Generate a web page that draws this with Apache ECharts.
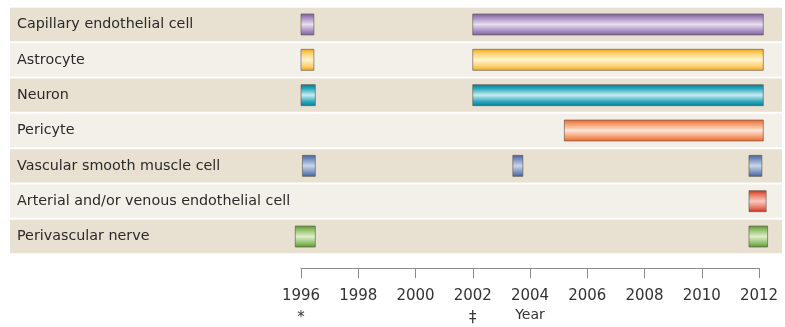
<!DOCTYPE html>
<html lang="en">
<head>
    <meta charset="UTF-8">
    <title>Cell types timeline</title>
    <script type="text/javascript" src="https://cdn.jsdelivr.net/npm/echarts@6/dist/echarts.min.js"></script>
    <style>
        html, body { margin: 0; padding: 0; background: #fff; }
        #chart { width: 785px; height: 327px; }
    </style>
</head>
<body>
<div id="chart"></div>
<script>
    // row labels, top to bottom
    var cellTypes = [
        'Capillary endothelial cell',
        'Astrocyte',
        'Neuron',
        'Pericyte',
        'Vascular smooth muscle cell',
        'Arterial and/or venous endothelial cell',
        'Perivascular nerve'
    ];
    // [row, start year, end year]
    var periods = [
        [0, 1996.0, 1996.45], [0, 2002.0, 2012.15],
        [1, 1996.0, 1996.45], [1, 2002.0, 2012.15],
        [2, 1996.0, 1996.5], [2, 2002.0, 2012.15],
        [3, 2005.2, 2012.15],
        [4, 1996.05, 1996.5], [4, 2003.4, 2003.75], [4, 2011.65, 2012.1],
        [5, 2011.65, 2012.25],
        [6, 1995.8, 1996.5], [6, 2011.65, 2012.3]
    ];
    var tickNotes = {1996: '*', 2002: '‡'};

    // dark edge / mid / highlight per row
    var rowColors = [
        ['#7a5f96', '#a68dc1', '#e8deef'],
        ['#eea31a', '#fdd06a', '#fff4d2'],
        ['#007f97', '#2aa6bb', '#c8ecf2'],
        ['#e2642a', '#f59a6a', '#fde4d4'],
        ['#415f97', '#7890bf', '#cad6ea'],
        ['#c42e1a', '#e8765e', '#f9cbbf'],
        ['#5a9232', '#90c06a', '#deeeca']
    ];
    var bandColors = ['#e8e0d0', '#f3f0e9'];
    var font = 'DejaVu Sans';

    var myChart = echarts.init(document.getElementById('chart'));

    function renderBand(params, api) {
        var i = api.value(0);
        var y = api.coord([1996, i])[1];
        var h = api.size([0, 1])[1];
        return {
            type: 'rect',
            shape: {x: 10, y: y - h / 2 + 1, width: 772, height: h - 2},
            style: {fill: bandColors[i % 2]},
            silent: true
        };
    }

    function renderBar(params, api) {
        var row = api.value(0);
        var p0 = api.coord([api.value(1), row]);
        var p1 = api.coord([api.value(2), row]);
        var h = 21;
        var c = rowColors[row];
        return {
            type: 'rect',
            shape: {x: p0[0], y: p0[1] - h / 2, width: p1[0] - p0[0], height: h},
            style: {
                fill: new echarts.graphic.LinearGradient(0, 0, 0, 1, [
                    {offset: 0, color: c[0]},
                    {offset: 0.2, color: c[1]},
                    {offset: 0.5, color: c[2]},
                    {offset: 0.8, color: c[1]},
                    {offset: 1, color: c[0]}
                ]),
                stroke: 'rgba(90,80,70,0.6)',
                lineWidth: 1
            }
        };
    }

    var option = {
        animation: false,
        grid: {left: 301, right: 26, top: 6.8, bottom: 72.8, outerBoundsMode: 'none', containLabel: false},
        xAxis: {
            type: 'value',
            min: 1996,
            max: 2012,
            interval: 2,
            offset: 14,
            name: 'Year',
            nameLocation: 'middle',
            nameGap: 40,
            nameMoveOverlap: false,
            nameTextStyle: {fontFamily: font, fontSize: 14, color: '#333'},
            axisLine: {show: true, lineStyle: {color: '#8a8a8a', width: 1}},
            axisTick: {show: true, length: 10, lineStyle: {color: '#8a8a8a'}},
            splitLine: {show: false},
            axisLabel: {
                margin: 17,
                fontFamily: font,
                fontSize: 15,
                color: '#333',
                lineHeight: 22,
                formatter: function (v) {
                    return tickNotes[v] ? v + '\n' + tickNotes[v] : String(v);
                }
            }
        },
        yAxis: {
            type: 'category',
            data: cellTypes,
            inverse: true,
            z: 5,
            axisLine: {show: false},
            axisTick: {show: false},
            splitLine: {show: false},
            axisLabel: {
                align: 'left',
                margin: 284,
                fontFamily: font,
                fontSize: 14.3,
                color: '#2a2a2a'
            }
        },
        series: [
            {
                type: 'custom',
                renderItem: renderBand,
                data: cellTypes.map(function (n, i) { return [i]; }),
                encode: {y: 0},
                z: 1,
                silent: true
            },
            {
                type: 'custom',
                renderItem: renderBar,
                data: periods,
                encode: {x: [1, 2], y: 0},
                clip: false,
                z: 2
            }
        ]
    };
    myChart.setOption(option);
</script>
</body>
</html>
